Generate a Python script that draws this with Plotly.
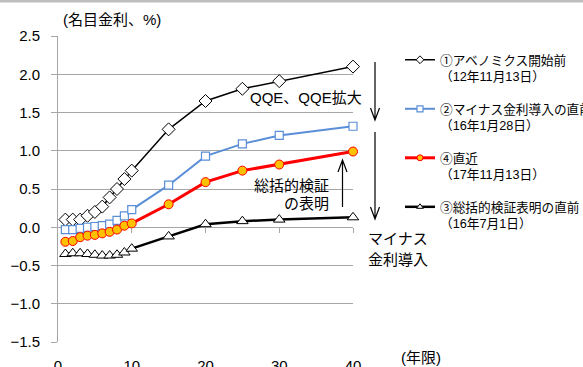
import plotly.graph_objects as go

# Maturity (years) and yield curves (nominal rate, %)
maturity = [1, 2, 3, 4, 5, 6, 7, 8, 9, 10, 15, 20, 25, 30, 40]
abenomics_before = [0.10, 0.10, 0.10, 0.15, 0.20, 0.27, 0.39, 0.50, 0.63, 0.74, 1.28, 1.65, 1.81, 1.91, 2.10]
negative_rate_before = [-0.03, -0.03, -0.015, 0.00, 0.01, 0.02, 0.04, 0.09, 0.15, 0.23, 0.55, 0.93, 1.09, 1.20, 1.32]
latest = [-0.19, -0.18, -0.13, -0.11, -0.10, -0.08, -0.06, -0.03, 0.02, 0.05, 0.30, 0.59, 0.74, 0.82, 0.99]
review_before = [-0.35, -0.34, -0.34, -0.35, -0.36, -0.37, -0.37, -0.36, -0.33, -0.28, -0.12, 0.04, 0.08, 0.10, 0.13]

legend_names = [
    "①アベノミクス開始前<br>（12年11月13日）",
    "②マイナス金利導入の直前<br>（16年1月28日）",
    "④直近<br>（17年11月13日）",
    "③総括的検証表明の直前<br>（16年7月1日）",
]
x_ticks = [0, 10, 20, 30, 40]
y_ticks = [-1.5, -1.0, -0.5, 0.0, 0.5, 1.0, 1.5, 2.0, 2.5]

FONT = "Liberation Sans, Arial, Noto Sans CJK JP"
GRID = "#a6a6a6"
BLUE = "#5a8fd8"

styles = [
    dict(line=dict(color="black", width=1.5),
         marker=dict(symbol="diamond", size=10, color="white", line=dict(color="black", width=1))),
    dict(line=dict(color=BLUE, width=2),
         marker=dict(symbol="square", size=8, color="white", line=dict(color=BLUE, width=1.2))),
    dict(line=dict(color="#ff0000", width=3),
         marker=dict(symbol="circle", size=9, color="#ffc000", line=dict(color="#ff0000", width=1))),
    dict(line=dict(color="black", width=2.5),
         marker=dict(symbol="triangle-up", size=10, color="white", line=dict(color="black", width=1))),
]
series = [abenomics_before, negative_rate_before, latest, review_before]

fig = go.Figure()
for vals, st in zip(series, styles):
    fig.add_trace(go.Scatter(x=maturity, y=vals, mode="lines+markers",
                             line=st["line"], marker=st["marker"],
                             showlegend=False, cliponaxis=False))

# legend entries with smaller markers
for i, (name, st) in enumerate(zip(legend_names, styles)):
    m = dict(st["marker"])
    m["size"] = 6
    lw = dict(st["line"])
    fig.add_trace(go.Scatter(x=[None], y=[None], mode="lines+markers", name=name,
                             line=lw, marker=m, legendgroup=f"g{i}", showlegend=True))

# tick marks along the zero line
fig.add_trace(go.Scatter(x=[None], y=[None], xaxis="x2", showlegend=False))

W, H = 583, 367
L, R, T, B = 58, 230, 36, 25
pw, ph = W - L - R, H - T - B


def px(x):
    return (x - L) / pw


def py(y):
    return (H - B - y) / ph


fig.update_layout(
    width=W, height=H,
    margin=dict(l=L, r=R, t=T, b=B, autoexpand=False),
    paper_bgcolor="white", plot_bgcolor="white",
    font=dict(family=FONT, size=15, color="black"),
    xaxis=dict(range=[0, 40], tickvals=x_ticks, showgrid=False, showline=False,
               zeroline=False, ticks="", tickfont=dict(size=15), ticklabelstandoff=13,
               automargin=False),
    xaxis2=dict(range=[0, 40], overlaying="x", anchor="free", position=1.5 / 4,
                side="bottom", tickvals=[10, 20, 30, 40], ticks="outside", ticklen=5,
                tickcolor=GRID, showticklabels=False, showgrid=False, showline=False,
                zeroline=False, automargin=False),
    yaxis=dict(range=[-1.5, 2.5], tickvals=y_ticks, tickformat=".1f",
               showgrid=True, gridcolor=GRID, gridwidth=1, zeroline=False,
               showline=True, linecolor=GRID, linewidth=1,
               ticks="outside", ticklen=6, tickcolor=GRID, tickfont=dict(size=15),
               ticklabelstandoff=8, automargin=False),
    legend=dict(x=px(400), y=py(45), xanchor="left", yanchor="top",
                font=dict(size=12.7, family=FONT), valign="top",
                tracegroupgap=13, bgcolor="rgba(0,0,0,0)", itemwidth=30),
    showlegend=True,
)

# top grey band
fig.add_shape(type="rect", xref="paper", yref="paper", x0=px(0), x1=px(W),
              y0=py(0), y1=py(2.5), fillcolor="#bfbfbf", line=dict(width=0), layer="above")


def arrow(x, y_tail, y_tip):
    d = 12 if y_tip > y_tail else -12
    path = (f"M {px(x)},{py(y_tail)} L {px(x)},{py(y_tip)} "
            f"M {px(x - 4.5)},{py(y_tip - d)} L {px(x)},{py(y_tip)} L {px(x + 4.5)},{py(y_tip - d)}")
    fig.add_shape(type="path", xref="paper", yref="paper", path=path,
                  line=dict(color="black", width=1.2))


arrow(375, 62, 120)
arrow(375, 132, 219)
arrow(342.5, 207, 160)


def label(text, x, y, anchor="left", size=15):
    fig.add_annotation(text=text, xref="paper", yref="paper", x=px(x), y=py(y),
                       xanchor=anchor, yanchor="middle", showarrow=False,
                       font=dict(size=size, family=FONT, color="black"))


label("(名目金利、%)", 61, 20)
label("(年限)", 399, 357)
label("QQE、QQE拡大", 305.5, 98, anchor="center")
label("総括的検証", 331, 185, anchor="right")
label("の表明", 331, 203, anchor="right")
label("マイナス", 366, 238)
label("金利導入", 366, 259)

fig.write_html("out.html")
